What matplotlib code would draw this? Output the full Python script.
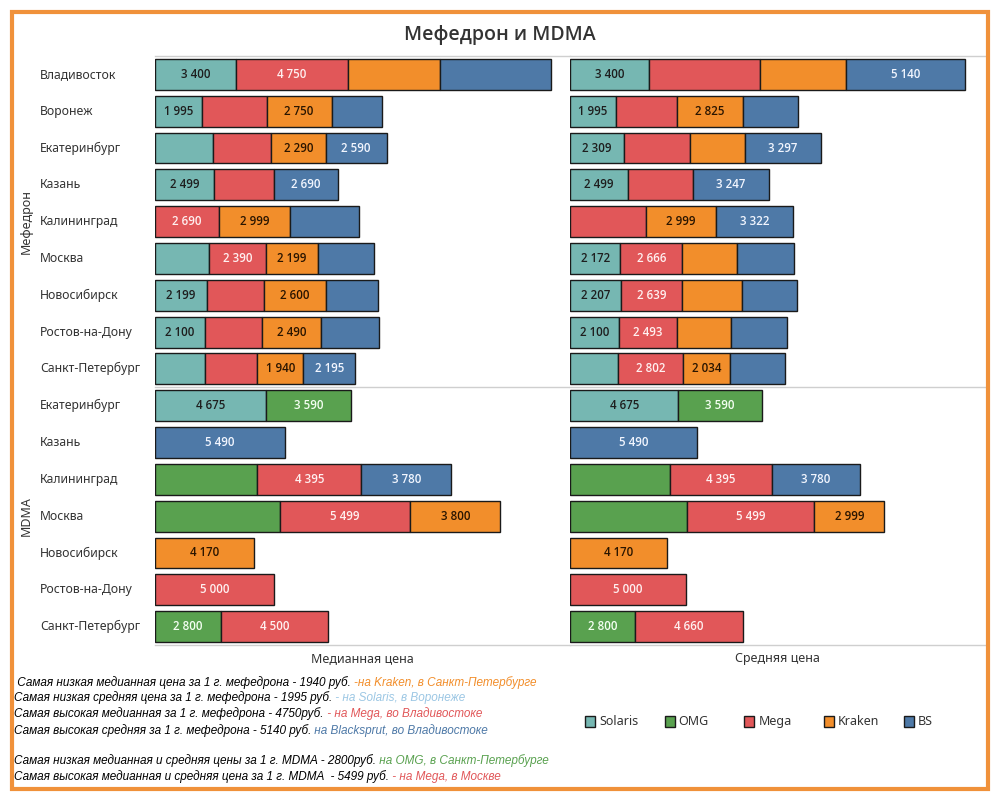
import numpy as np
import matplotlib
matplotlib.use("Agg")
import matplotlib.pyplot as plt
from matplotlib.patches import Rectangle
from matplotlib import transforms
from matplotlib import font_manager as fm

plt.rcParams['font.family'] = ['Noto Sans', 'DejaVu Sans']

# rows: 9 mephedrone cities, then 7 MDMA cities
cities_meph = ['Владивосток', 'Воронеж', 'Екатеринбург', 'Казань', 'Калининград',
               'Москва', 'Новосибирск', 'Ростов-на-Дону', 'Санкт-Петербург']
cities_mdma = ['Екатеринбург', 'Казань', 'Калининград', 'Москва', 'Новосибирск',
               'Ростов-на-Дону', 'Санкт-Петербург']
groups = ['Мефедрон', 'MDMA']

series = ['Solaris', 'OMG', 'Mega', 'Kraken', 'BS']
colors = ['#76B7B2', '#59A14F', '#E15759', '#F28E2B', '#4E79A7']
label_colors = ['#1e1e1e', '#f4fff2', '#fff0f0', '#2a1500', '#f2f6ff']

# median price (0 = no offer)
med_solaris = [3400, 1995, 2440, 2499, 0, 2280, 2199, 2100, 2100, 4675, 0, 0, 0, 0, 0, 0]
med_omg = [0, 0, 0, 0, 0, 0, 0, 0, 0, 3590, 0, 4310, 5270, 0, 0, 2800]
med_mega = [4750, 2710, 2460, 2530, 2690, 2390, 2410, 2430, 2210, 0, 0, 4395, 5499, 0, 5000, 4500]
med_kraken = [3870, 2750, 2290, 0, 2999, 2199, 2600, 2490, 1940, 0, 0, 0, 3800, 4170, 0, 0]
med_bs = [4690, 2110, 2590, 2690, 2920, 2370, 2190, 2440, 2195, 0, 5490, 3780, 0, 0, 0, 0]

# average price
avg_solaris = [3400, 1995, 2309, 2499, 0, 2172, 2207, 2100, 2070, 4675, 0, 0, 0, 0, 0, 0]
avg_omg = [0, 0, 0, 0, 0, 0, 0, 0, 0, 3590, 0, 4310, 5040, 0, 0, 2800]
avg_mega = [4780, 2630, 2860, 2820, 3290, 2666, 2639, 2493, 2802, 0, 0, 4395, 5499, 0, 5000, 4660]
avg_kraken = [3710, 2825, 2360, 0, 2999, 2340, 2590, 2360, 2034, 0, 0, 0, 2999, 4170, 0, 0]
avg_bs = [5140, 2370, 3297, 3247, 3322, 2490, 2330, 2410, 2370, 0, 5490, 3780, 0, 0, 0, 0]

# which segments carry a value label
med_labels = [['Solaris', 'Mega'], ['Solaris', 'Kraken'], ['Kraken', 'BS'], ['Solaris', 'BS'],
              ['Mega', 'Kraken'], ['Mega', 'Kraken'], ['Solaris', 'Kraken'], ['Solaris', 'Kraken'],
              ['Kraken', 'BS'], ['Solaris', 'OMG'], ['BS'], ['Mega', 'BS'], ['Mega', 'Kraken'],
              ['Kraken'], ['Mega'], ['OMG', 'Mega']]
avg_labels = [['Solaris', 'BS'], ['Solaris', 'Kraken'], ['Solaris', 'BS'], ['Solaris', 'BS'],
              ['Kraken', 'BS'], ['Solaris', 'Mega'], ['Solaris', 'Mega'], ['Solaris', 'Mega'],
              ['Mega', 'Kraken'], ['Solaris', 'OMG'], ['BS'], ['Mega', 'BS'], ['Mega', 'Kraken'],
              ['Kraken'], ['Mega'], ['OMG', 'Mega']]

notes = [
    [(' Самая низкая медианная цена за 1 г. мефедрона - 1940 руб. ', 'k'), ('-на Kraken, в Санкт-Петербурге', '#F28E2B')],
    [('Самая низкая средняя цена за 1 г. мефедрона - 1995 руб.', 'k'), (' - на Solaris, в Воронеже', '#9CC7E4')],
    [('Самая высокая медианная за 1 г. мефедрона - 4750руб.', 'k'), (' - на Mega, во Владивостоке', '#E15759')],
    [('Самая высокая средняя за 1 г. мефедрона - 5140 руб.', 'k'), (' на Blacksprut, во Владивостоке', '#4E79A7')],
    None,
    [('Самая низкая медианная и средняя цены за 1 г. MDMA - 2800руб.', 'k'), (' на OMG, в Санкт-Петербурге', '#59A14F')],
    [('Самая высокая медианная и средняя цена за 1 г. MDMA  - 5499 руб.', 'k'), (' - на Mega, в Москве', '#E15759')],
]


# pick a static font file, so weight / italic really change (no variable fonts)
def pick_font(families, weight, style, size):
    def w(v):
        return v if isinstance(v, (int, float)) else fm.weight_dict.get(v, 400)
    for fam in families:
        cands = [f for f in fm.fontManager.ttflist
                 if f.name == fam and f.style == style and f.stretch == 'normal'
                 and '[' not in f.fname and 'ondensed' not in f.fname]
        if not cands:
            continue
        best = min(cands, key=lambda f: abs(w(f.weight) - weight))
        if abs(w(best.weight) - weight) <= 100:
            return fm.FontProperties(fname=best.fname, size=size)
    return fm.FontProperties(family=['DejaVu Sans'], weight=weight, style=style, size=size)


fams = ['Open Sans', 'Lato', 'Liberation Sans']
fp_label = pick_font(fams, 600, 'normal', 8.3)
fp_title = pick_font(fams, 600, 'normal', 14.5)
fp_note = pick_font(['Liberation Sans', 'Lato'], 400, 'italic', 8.5)

W, H = 1000, 800
fig = plt.figure(figsize=(10, 8), dpi=100)
renderer = fig.canvas.get_renderer()


def fx(x):
    return x / W


def fy(y):
    return 1 - y / H


def fit_size(fp, text, width_px):
    t = fig.text(0, 0, text, fontproperties=fp)
    w = t.get_window_extent(renderer).width
    t.remove()
    fp.set_size(fp.get_size() * width_px / w)


fit_size(fp_title, 'Мефедрон и MDMA', 190)
fit_size(fp_note, ''.join(s for s, _ in notes[0]), 522)

n_rows = len(cities_meph) + len(cities_mdma)
rows = np.arange(n_rows)
ax_l = fig.add_axes([fx(155), fy(645), fx(570) - fx(155), fy(56) - fy(645)])
ax_r = fig.add_axes([fx(570), fy(645), fx(985) - fx(570), fy(56) - fy(645)])

panels = [
    (ax_l, [med_solaris, med_omg, med_mega, med_kraken, med_bs], med_labels, 17500, 'Медианная цена'),
    (ax_r, [avg_solaris, avg_omg, avg_mega, avg_kraken, avg_bs], avg_labels, 17890, 'Средняя цена'),
]

for ax, data, shown, xmax, xlabel in panels:
    left = np.zeros(n_rows)
    for name, vals, col, tcol in zip(series, data, colors, label_colors):
        vals = np.array(vals, dtype=float)
        m = vals > 0
        ax.barh(rows[m], vals[m], left=left[m], height=0.84, color=col,
                edgecolor='#1a1a1a', linewidth=1.0)
        for r in rows[m]:
            if name in shown[r]:
                ax.text(left[r] + vals[r] / 2, r, f"{int(vals[r]):,}".replace(',', ' '),
                        ha='center', va='center', fontproperties=fp_label, color=tcol)
        left += vals
    ax.set_xlim(0, xmax)
    ax.set_ylim(n_rows - 0.5, -0.5)
    for yy in (-0.5, len(cities_meph) - 0.5, n_rows - 0.5):
        ax.axhline(yy, color='#cfcfcf', lw=1, clip_on=False)
    for s in ax.spines.values():
        s.set_visible(False)
    ax.set_xticks([])
    ax.set_yticks([])
    ax.set_xlabel(xlabel, fontsize=9, color='#333333', labelpad=5)

# row and group labels
tr = transforms.blended_transform_factory(fig.transFigure, ax_l.transData)
for i, c in enumerate(cities_meph + cities_mdma):
    fig.text(fx(40), i, c, transform=tr, ha='left', va='center', fontsize=8.8, color='#333333')
group_centers = [(len(cities_meph) - 1) / 2, len(cities_meph) + (len(cities_mdma) - 1) / 2]
for g, yc in zip(groups, group_centers):
    fig.text(fx(26), yc, g, transform=tr, ha='center', va='center', rotation=90,
             fontsize=9, color='#333333')

fig.text(0.5, fy(35), 'Мефедрон и MDMA', ha='center', va='center',
         fontproperties=fp_title, color='#333333')

# legend
for i, (name, col) in enumerate(zip(series, colors)):
    x0 = 585 + i * 79.7
    fig.add_artist(Rectangle((fx(x0), fy(727)), fx(10), 11 / H, facecolor=col,
                             edgecolor='#1a1a1a', lw=1, transform=fig.transFigure))
    fig.text(fx(x0 + 14), fy(721.5), name, ha='left', va='center', fontsize=9, color='#333333')

# notes with coloured tails
ys = [683, 698, 714, 731, 746, 761, 777]
for line, y in zip(notes, ys):
    if line is None:
        continue
    x = 14
    for text, col in line:
        t = fig.text(x, H - y, text, transform=None, ha='left', va='center',
                     fontproperties=fp_note, color=col)
        x = t.get_window_extent(renderer).x1

fig.add_artist(Rectangle((fx(11.5), fy(788.5)), fx(988) - fx(11.5), fy(12) - fy(788.5),
                         fill=False, edgecolor='#F0913A', lw=3, transform=fig.transFigure))

fig.savefig('out.png', dpi=100)
